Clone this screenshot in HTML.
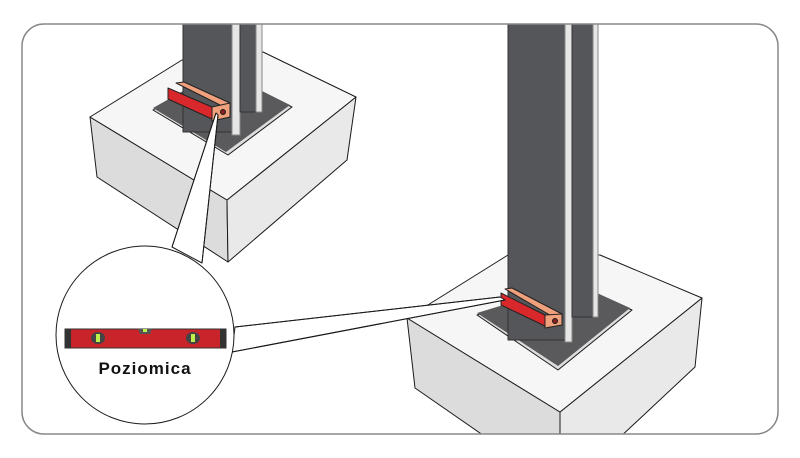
<!DOCTYPE html>
<html><head><meta charset="utf-8"><style>
html,body{margin:0;padding:0;background:#fff;width:800px;height:458px;overflow:hidden}
</style></head><body>
<svg width="800" height="458" viewBox="0 0 800 458" xmlns="http://www.w3.org/2000/svg">
<defs><clipPath id="fr"><rect x="22" y="24" width="756" height="410" rx="22"/></clipPath></defs>
<rect x="0" y="0" width="800" height="458" fill="#fff"/>
<g clip-path="url(#fr)" stroke="#1a1a1a" stroke-width="1" stroke-linejoin="round">
<polygon points="90,117 97,177 228,262 227,200" fill="#dcdcdd"/>
<polygon points="227,200 356,97 347,160 228,262" fill="#e9e9ea"/>
<polygon points="90,117 182,60 263,52 356,97 227,200" fill="#f6f6f7"/>
<polygon points="153,110 228,155 292,107 220,72" fill="#ddd"/>
<polygon points="153,108 226,152 290,105 220,70" fill="#5a5a5d" stroke="none"/>
<rect x="183" y="20" width="49" height="112" fill="#55565a" stroke="#333"/>
<rect x="232" y="20" width="8" height="115" fill="#e6e6e6" stroke="#888"/>
<rect x="240" y="20" width="16" height="92" fill="#55565a" stroke="#333"/>
<rect x="256" y="20" width="6" height="92" fill="#e6e6e6" stroke="#888"/>
<polygon points="176,83 184,82 230,103 222,106" fill="#f0a07c" stroke="#222"/>
<polygon points="168,88 212,107 212,119 168,99" fill="#d8282c" stroke="#222"/>
<polygon points="212,107 230,103 230,117 212,121" fill="#f0a07c" stroke="#222"/>
<circle cx="223" cy="112" r="2.5" fill="#8a2020"/>
<polygon points="407,318 415,388 490,440 560,440 560,412" fill="#dcdcdd"/>
<polygon points="560,412 702,298 695,367 617,440 560,440" fill="#e9e9ea"/>
<polygon points="407,318 508,255 600,255 702,298 560,412" fill="#f6f6f7"/>
<polygon points="477,315 558,370 632,310 575,285" fill="#ddd"/>
<polygon points="477,313 558,366 630,308 575,283" fill="#5a5a5d" stroke="none"/>
<rect x="508" y="20" width="57" height="320" fill="#55565a" stroke="#333"/>
<rect x="565" y="20" width="7" height="322" fill="#e6e6e6" stroke="#888"/>
<rect x="572" y="20" width="21" height="297" fill="#55565a" stroke="#333"/>
<rect x="593" y="20" width="5" height="297" fill="#e6e6e6" stroke="#888"/>
<polygon points="505,289 512,288 562,314 555,318" fill="#f0a07c" stroke="#222"/>
<polygon points="501,293 545,315 545,326 501,305" fill="#d8282c" stroke="#222"/>
<polygon points="545,315 562,314 562,325 545,328" fill="#f0a07c" stroke="#222"/>
<circle cx="555" cy="321" r="2.5" fill="#8a2020"/>
<polygon points="172,247 216,113 218,115 202,263" fill="#fff"/>
<line x1="172" y1="247" x2="216" y2="113"/>
<line x1="202" y1="263" x2="218" y2="115"/>
<polygon points="235,327 500,297 505,300 232,352" fill="#fff"/>
<line x1="235" y1="327" x2="500" y2="297"/>
<line x1="232" y1="352" x2="505" y2="300"/>
<circle cx="145" cy="335" r="89" fill="#fff"/>
</g>
<rect x="22" y="24" width="756" height="410" rx="22" fill="none" stroke="#888" stroke-width="1.5"/>
<rect x="65" y="329" width="161" height="19" fill="#c8242a" stroke="#333"/>
<rect x="65" y="329" width="6" height="19" fill="#333"/>
<rect x="220" y="329" width="6" height="19" fill="#333"/>
<ellipse cx="98" cy="338" rx="7" ry="6" fill="#444"/>
<ellipse cx="193" cy="338" rx="7" ry="6" fill="#444"/>
<rect x="96" y="334" width="4" height="8" fill="#bdf04a"/>
<rect x="191" y="334" width="4" height="8" fill="#bdf04a"/>
<polygon points="138,329 152,329 150,334 140,334" fill="#555"/>
<rect x="143" y="329" width="4" height="3" fill="#bdf04a"/>
<text x="145" y="374" text-anchor="middle" font-family="Liberation Sans, sans-serif" font-weight="900" font-size="17" letter-spacing="1" fill="#111">Poziomica</text>
</svg>
</body></html>
